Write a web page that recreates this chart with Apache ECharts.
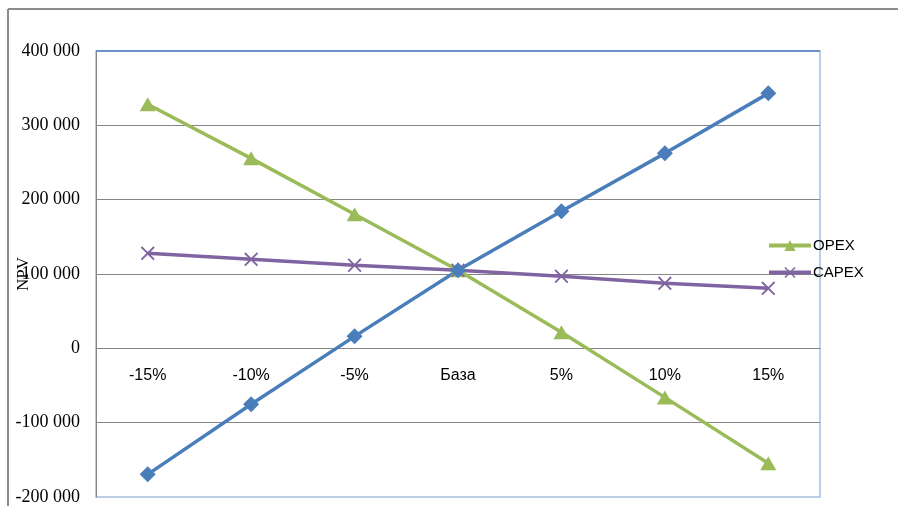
<!DOCTYPE html>
<html><head><meta charset="utf-8">
<script src="https://cdn.jsdelivr.net/npm/echarts@6/dist/echarts.min.js"></script>
<style>html,body{margin:0;padding:0;background:#fff}#c{width:898px;height:506px}</style>
</head><body><div id="c"></div>
<script>
var categories = ['-15%', '-10%', '-5%', 'База', '5%', '10%', '15%'];
var opex = [328300, 255600, 180300, 105000, 21500, -66000, -154700];
var capex = [127800, 119700, 111700, 105000, 96900, 87400, 80700];
var price = [-169500, -75300, 16100, 105000, 184300, 262300, 343000];
var yMin = -200000, yMax = 400000, yStep = 100000;

var crossPath = 'path://M0,1.5L1.5,0L8,6.5L14.5,0L16,1.5L9.5,8L16,14.5L14.5,16L8,9.5L1.5,16L0,14.5L6.5,8Z';
function fmt(v){
  var s = Math.abs(v).toString().replace(/\B(?=(\d{3})+(?!\d))/g, ' ');
  return (v < 0 ? '-' : '') + s;
}
var chart = echarts.init(document.getElementById('c'), null, {renderer:'canvas'});
var option = {
  animation:false,
  backgroundColor:'#ffffff',
  graphic:[
    {type:'line', shape:{x1:8,y1:9,x2:898,y2:9}, style:{stroke:'#8c8c8c', lineWidth:2}},
    {type:'line', shape:{x1:8,y1:9,x2:8,y2:506}, style:{stroke:'#8c8c8c', lineWidth:2}},
    {type:'line', shape:{x1:96,y1:51,x2:820,y2:51}, style:{stroke:'#4f81bd', lineWidth:1.5}, z:10}
  ],
  grid:{left:96, right:78, top:51, bottom:9, show:true, borderColor:'#a7bfde', borderWidth:1.5,
        containLabel:false, outerBoundsMode:'none'},
  legend:{
    data:['OPEX','CAPEX'], orient:'vertical', left:767, top:238, padding:0,
    itemWidth:42, itemHeight:14, itemGap:12,
    lineStyle:{width:4},
    textStyle:{fontFamily:'Liberation Sans', fontSize:15, color:'#000', padding:[0,0,0,-3]}
  },
  xAxis:{
    type:'category', data:categories, boundaryGap:true, offset:0,
    axisLine:{onZero:false, lineStyle:{color:'#868686', width:1}},
    axisTick:{show:false},
    axisLabel:{margin:19, fontFamily:'Liberation Sans', fontSize:16, color:'#000'}
  },
  yAxis:{
    type:'value', min:yMin, max:yMax, interval:yStep,
    name:'NPV', nameLocation:'middle', nameRotate:90, nameGap:64, nameMoveOverlap:false,
    nameTextStyle:{fontFamily:'Liberation Serif', fontSize:17, color:'#000'},
    axisLine:{show:true, lineStyle:{color:'#868686', width:1}},
    axisTick:{show:false},
    splitLine:{show:true, showMinLine:false, showMaxLine:false, lineStyle:{color:'#868686', width:1}},
    axisLabel:{margin:16, fontFamily:'Liberation Serif', fontSize:18, color:'#000', formatter:fmt}
  },
  series:[
    {name:'OPEX', type:'line', data:opex, symbol:'triangle', symbolSize:[16,14],
     itemStyle:{color:'#9bbb59'}, lineStyle:{color:'#9bbb59', width:3.5}},
    {name:'CAPEX', type:'line', data:capex, symbol:crossPath, symbolSize:14,
     itemStyle:{color:'#8064a2'}, lineStyle:{color:'#8064a2', width:3.5}},
    {name:'Цена', type:'line', data:price, symbol:'diamond', symbolSize:16,
     itemStyle:{color:'#4a7ebb'}, lineStyle:{color:'#4a7ebb', width:3.5}}
  ]
};
chart.setOption(option);
var zeroY = chart.convertToPixel({yAxisIndex:0}, 0);
var bottomY = chart.convertToPixel({yAxisIndex:0}, yMin);
chart.setOption({xAxis:{offset:-(bottomY - zeroY)}});
</script></body></html>
